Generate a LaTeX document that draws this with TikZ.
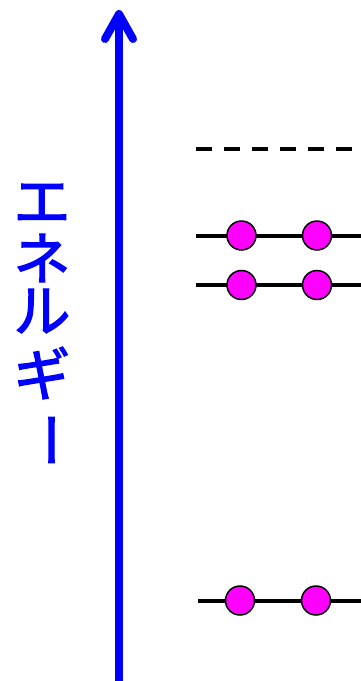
\documentclass[tikz,border=0pt]{standalone}
\usepackage{fontspec}
\newfontfamily\jpfont[FakeBold=2.2]{Noto Sans CJK JP}
\definecolor{electronfill}{RGB}{255,0,255}
\definecolor{axisblue}{RGB}{0,0,255}
\begin{document}
\begin{tikzpicture}[x=1pt,y=-1pt,
    electron/.style={circle,draw=black,line width=1.5pt,fill=electronfill,minimum size=29pt,inner sep=0pt},
    level/.style={black,line width=4pt},
    kana/.style={text=axisblue,font=\jpfont\fontsize{57}{57}\selectfont,inner sep=0pt}]
    \useasboundingbox (0,0) rectangle (361,681);
    % energy axis
    \coordinate (bottom) at (119,681);
    \coordinate (top) at (119,14);
    \coordinate (barbL) at (105,39);
    \coordinate (barbR) at (133,39);
    \draw[axisblue,line width=8pt] (bottom) -- (top);
    \draw[axisblue,line width=8pt,line cap=round,line join=round] (barbL) -- (top) -- (barbR);
    \foreach \ch/\y/\n in {エ/203/k1,ネ/258/k2,ル/311/k3,ギ/373/k4}
        \node[kana] (\n) at (42,\y) {\ch};
    \node[kana,rotate=-90] (k5) at (42,440) {ー};
    % empty level
    \coordinate (d0) at (196,149);
    \coordinate (d1) at (352,149);
    \draw[level,dash pattern=on 16pt off 12pt] (d0) -- (d1);
    % occupied levels
    \foreach \y/\xa/\xb/\s/\n in {235.5/241.5/317/196/a,285/241.5/317/196/b,600.5/240/316/198/c}
    {
        \coordinate (\n0) at (\s,\y);
        \coordinate (\n1) at (361,\y);
        \draw[level] (\n0) -- (\n1);
        \node[electron] (\n e1) at (\xa,\y) {};
        \node[electron] (\n e2) at (\xb,\y) {};
    }
\end{tikzpicture}
\end{document}
